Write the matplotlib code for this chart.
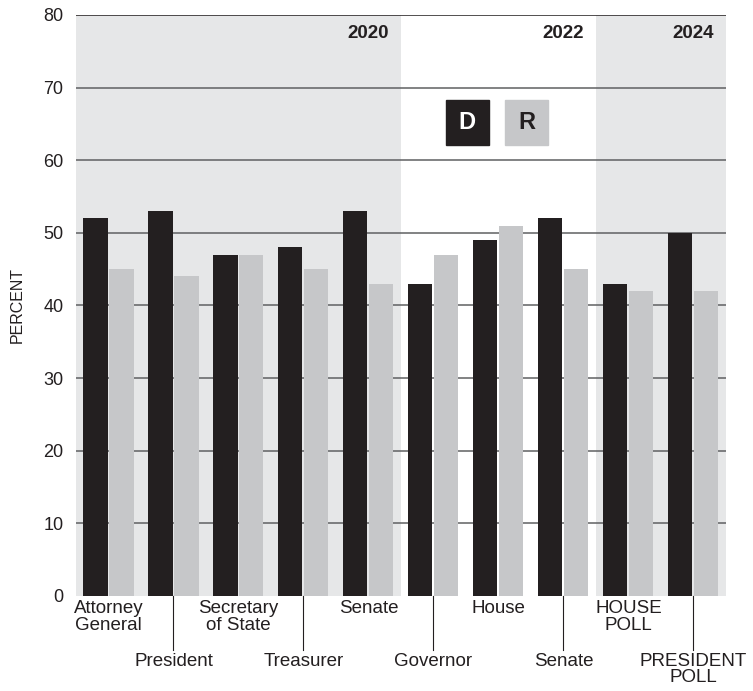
import numpy as np
import matplotlib.pyplot as plt
from matplotlib.patches import Rectangle

categories = ['Attorney\nGeneral', 'President', 'Secretary\nof State', 'Treasurer',
              'Senate', 'Governor', 'House', 'Senate', 'HOUSE\nPOLL', 'PRESIDENT\nPOLL']
dem = [52, 53, 47, 48, 53, 43, 49, 52, 43, 50]
rep = [45, 44, 47, 45, 43, 47, 51, 45, 42, 42]
# year spans: (label, first group, last group, shaded)
years = [('2020', 0, 4, True), ('2022', 5, 7, False), ('2024', 8, 9, True)]

plt.rcParams['font.family'] = ['Liberation Sans', 'DejaVu Sans']

D_COL = '#231f20'
R_COL = '#c6c7c9'
SHADE = '#e6e7e8'

fig = plt.figure(figsize=(7.53, 6.91), dpi=100)
ax = fig.add_axes([0.1009, 0.1375, 0.8632, 0.8408])

x = np.arange(len(categories))
w = 0.37
off = 0.2

for label, a, b, shaded in years:
    if shaded:
        ax.axvspan(a - 0.5, b + 0.5, color=SHADE, zorder=0, lw=0)
    ax.text(b + 0.31, 78.6, label, ha='right', va='top', fontsize=13.5,
            fontweight='bold', color='#231f20')

for yv in range(10, 90, 10):
    ax.axhline(yv, color='#231f20' if yv == 80 else '#5f6062', lw=1.1, zorder=1)

ax.bar(x - off, dem, w, color=D_COL, zorder=2)
ax.bar(x + off, rep, w, color=R_COL, zorder=2)

ax.set_xlim(-0.5, 9.5)
ax.set_ylim(0, 80)
ax.set_yticks(range(0, 90, 10))
ax.tick_params(axis='y', length=0, labelsize=13, pad=9, labelcolor='#231f20')
ax.set_xticks([])
for s in ax.spines.values():
    s.set_visible(False)
ax.set_ylabel('PERCENT', fontsize=11.5, labelpad=13, color='#231f20')

# category labels, alternating rows with leader lines for the lower row
for i, c in enumerate(categories):
    if i % 2 == 0:
        ax.annotate(c, (i, 0), xytext=(0, -3), textcoords='offset points',
                    ha='center', va='top', fontsize=13.5, linespacing=1.0,
                    color='#231f20', annotation_clip=False)
    else:
        ax.plot([i, i], [0, -7.4], color='#231f20', lw=0.8, clip_on=False, zorder=3)
        ax.annotate(c, (i, 0), xytext=(0, -41), textcoords='offset points',
                    ha='center', va='top', fontsize=13.5, linespacing=0.95,
                    color='#231f20', annotation_clip=False)

# legend boxes
ax.add_patch(Rectangle((5.19, 62.1), 0.66, 6.2, color=D_COL, zorder=3))
ax.text(5.52, 65.2, 'D', ha='center', va='center', color='white', fontsize=17,
        fontweight='bold', zorder=4)
ax.add_patch(Rectangle((6.1, 62.1), 0.66, 6.2, color=R_COL, zorder=3))
ax.text(6.43, 65.2, 'R', ha='center', va='center', color='#231f20', fontsize=17,
        fontweight='bold', zorder=4)

fig.savefig('out.png', dpi=100)
